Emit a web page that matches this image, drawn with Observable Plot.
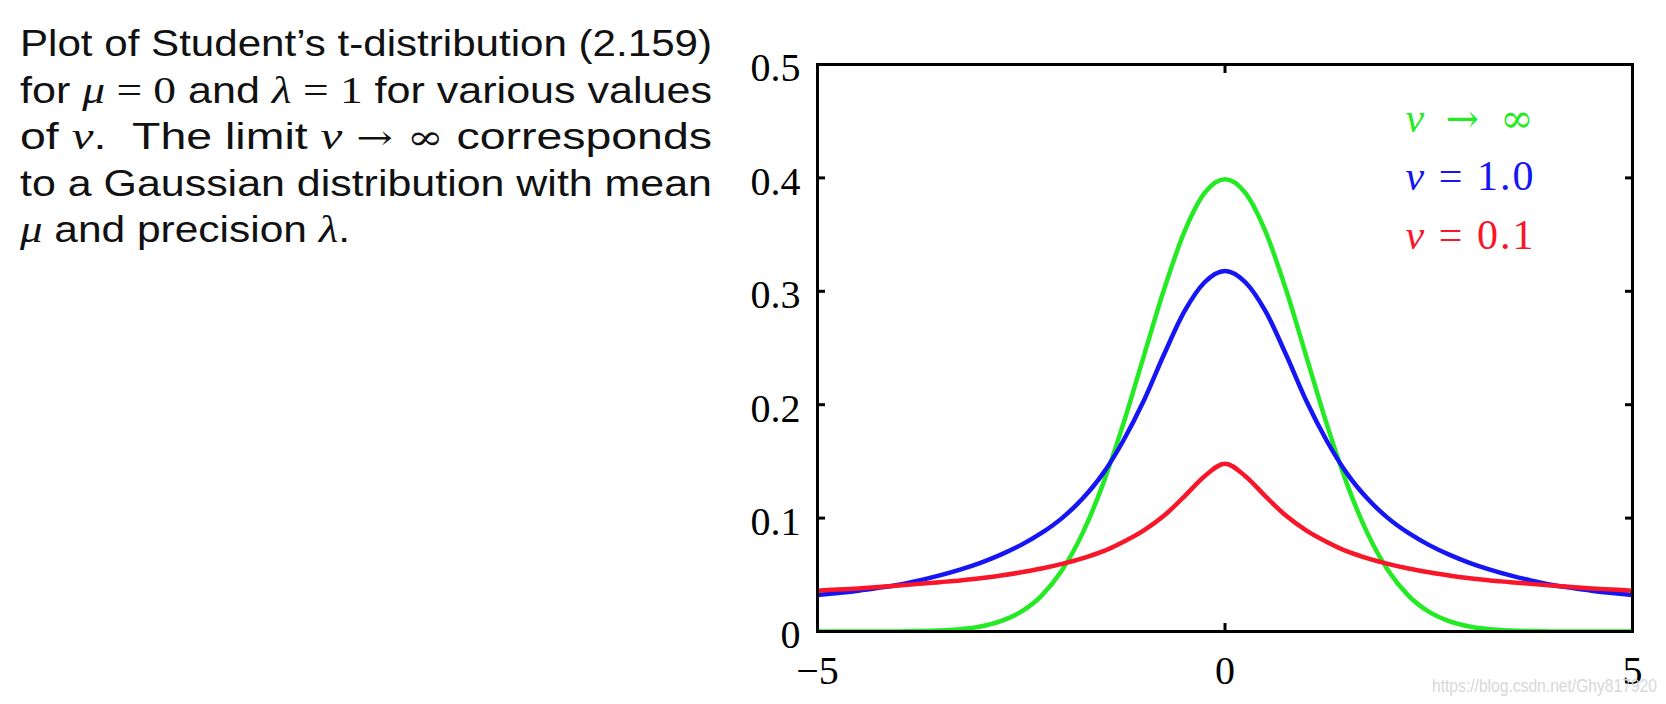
<!DOCTYPE html>
<html><head><meta charset="utf-8">
<script src="https://cdn.jsdelivr.net/npm/d3@7"></script>
<script src="https://cdn.jsdelivr.net/npm/@observablehq/plot@0.6"></script>
<style>
html,body{margin:0;padding:0;background:#fff;}
#wrap{position:relative;width:1666px;height:704px;overflow:hidden;}
#chart{position:absolute;left:0;top:0;}
#caption{position:absolute;left:0;top:0;}
#mark{position:absolute;left:0;top:0;pointer-events:none;}
</style></head><body>
<div id="wrap"><div id="chart"></div><svg id="caption" width="760" height="270"></svg><svg id="mark" width="1666" height="704"></svg></div>
<script>
const xValues = [-5, -4.75, -4.5, -4.25, -4, -3.75, -3.5, -3.25, -3, -2.75, -2.5, -2.25, -2, -1.75, -1.5, -1.25, -1, -0.75, -0.5, -0.25, 0,
  0.25, 0.5, 0.75, 1, 1.25, 1.5, 1.75, 2, 2.25, 2.5, 2.75, 3, 3.25, 3.5, 3.75, 4, 4.25, 4.5, 4.75, 5];
const gaussValues = [0, 0, 0, 0.0001, 0.0001, 0.0004, 0.0009, 0.0020, 0.0044, 0.0091, 0.0175, 0.0317, 0.0540, 0.0863, 0.1295, 0.1826, 0.2420, 0.3011, 0.3521, 0.3867, 0.3989,
  0.3867, 0.3521, 0.3011, 0.2420, 0.1826, 0.1295, 0.0863, 0.0540, 0.0317, 0.0175, 0.0091, 0.0044, 0.0020, 0.0009, 0.0004, 0.0001, 0.0001, 0, 0, 0];
const nu1Values = [0.0322, 0.0340, 0.0360, 0.0385, 0.0413, 0.0451, 0.0495, 0.0546, 0.0606, 0.0678, 0.0764, 0.0869, 0.1000, 0.1170, 0.1390, 0.1680, 0.2030, 0.2440, 0.2820, 0.3080, 0.3180,
  0.3080, 0.2820, 0.2440, 0.2030, 0.1680, 0.1390, 0.1170, 0.1000, 0.0869, 0.0764, 0.0678, 0.0606, 0.0546, 0.0495, 0.0451, 0.0413, 0.0385, 0.0360, 0.0340, 0.0322];
const nu01Values = [0.0360, 0.0370, 0.0380, 0.0392, 0.0405, 0.0420, 0.0435, 0.0450, 0.0469, 0.0494, 0.0522, 0.0555, 0.0596, 0.0645, 0.0706, 0.0790, 0.0890, 0.1020, 0.1190, 0.1370, 0.1480,
  0.1370, 0.1190, 0.1020, 0.0890, 0.0790, 0.0706, 0.0645, 0.0596, 0.0555, 0.0522, 0.0494, 0.0469, 0.0450, 0.0435, 0.0420, 0.0405, 0.0392, 0.0380, 0.0370, 0.0360];
const seriesNames = ["ν → ∞", "ν = 1.0", "ν = 0.1"];
const seriesColors = ["#24ea24", "#1616f4", "#f81628"];
const yTicks = [0, 0.1, 0.2, 0.3, 0.4, 0.5];
const yTickLabels = ["0", "0.1", "0.2", "0.3", "0.4", "0.5"];
const xTicks = [-5, 0, 5];
const xTickLabels = ["−5", "0", "5"];
const captionLines = [
  [["Plot of Student’s t-distribution (2.159)", "t"]],
  [["for ", "t"], ["μ", "i"], [" = 0", "m"], [" and ", "t"], ["λ", "i"], [" = 1", "m"], [" for various values", "t"]],
  [["of ", "t"], ["ν", "i"], [".  The limit ", "t"], ["ν", "i"], [" → ∞", "s"], [" corresponds", "t"]],
  [["to a Gaussian distribution with mean", "t"]],
  [["μ", "i"], [" and precision ", "t"], ["λ", "i"], [".", "t"]]
];
const watermark = "https://blog.csdn.net/Ghy817920";

const seriesValues = [gaussValues, nu1Values, nu01Values];

const fig = Plot.plot({
  width: 1666, height: 704,
  marginLeft: 817, marginRight: 34, marginTop: 64, marginBottom: 73,
  style: {background: "transparent", fontFamily: "Liberation Serif", color: "black"},
  x: {domain: [-5, 5], label: null},
  y: {domain: [0, 0.5], label: null},
  marks: [
    ...seriesValues.map((vals, k) => Plot.line(vals, {
      x: (d, i) => xValues[i], y: d => d, stroke: seriesColors[k], strokeWidth: 4.5,
      curve: "monotone-x", clip: true
    })),
    Plot.frame({stroke: "black", strokeWidth: 3}),
    Plot.axisY(yTicks, {anchor: "left", tickSize: -8, fill: "none", stroke: "black", strokeWidth: 3}),
    Plot.axisY(yTicks, {anchor: "right", tickSize: -8, fill: "none", stroke: "black", strokeWidth: 3}),
    Plot.axisX(xTicks, {anchor: "bottom", tickSize: -8, fill: "none", stroke: "black", strokeWidth: 3}),
    Plot.axisX(xTicks, {anchor: "top", tickSize: -8, fill: "none", stroke: "black", strokeWidth: 3}),
    Plot.axisY(yTicks, {anchor: "left", tickSize: 0, tickPadding: 17, dy: 4, fontSize: 40, fontFamily: "Liberation Serif", fill: "black",
      tickFormat: d => yTickLabels[yTicks.indexOf(d)]}),
    Plot.axisX(xTicks, {anchor: "bottom", tickSize: 0, tickPadding: 24, fontSize: 40, fontFamily: "Liberation Serif", fill: "black",
      tickFormat: d => xTickLabels[xTicks.indexOf(d)]}),
    ...seriesNames.map((name, k) => Plot.text([name], {
      frameAnchor: "top-left", dx: 588, dy: 54 + k * 58.5, text: d => d, fill: seriesColors[k],
      fontSize: 42, fontFamily: "Liberation Serif", textAnchor: "start", lineAnchor: "middle", ariaLabel: "legend"
    }))
  ]
});
document.getElementById("chart").appendChild(fig);

d3.select(fig).selectAll('g[aria-label="legend"] text, g[aria-label="text"] text').each(function() {
  const t = this.textContent;
  const sel = d3.select(this);
  sel.text(null).style("white-space", "pre");
  sel.append("tspan").attr("font-style", "italic").text(t[0]);
  const rest = t.slice(1);
  if (rest.includes("→")) {
    sel.append("tspan").attr("font-family", "DejaVu Serif").attr("font-size", 40).text(rest);
  } else {
    sel.append("tspan").text(rest);
  }
  sel.attr("textLength", 128).attr("lengthAdjust", "spacing");
});

const cap = d3.select("#caption");
captionLines.forEach((line, li) => {
  const t = cap.append("text")
    .attr("x", 20).attr("y", 56 + li * 46.5)
    .attr("font-family", "Liberation Sans").attr("font-size", 36).attr("fill", "#111")
    .style("white-space", "pre");
  line.forEach(([s, kind]) => {
    const ts = t.append("tspan").text(s);
    if (kind === "m" || kind === "i") ts.attr("font-family", "Liberation Serif").attr("font-size", 38);
    if (kind === "s") ts.attr("font-family", "DejaVu Serif").attr("font-size", 34);
    if (kind === "i") ts.attr("font-style", "italic");
  });
  t.attr("textLength", li < 4 ? 692 : 330).attr("lengthAdjust", "spacingAndGlyphs");
});

d3.select("#mark").append("text")
  .attr("x", 1432).attr("y", 692)
  .attr("font-family", "Liberation Sans").attr("font-size", 19)
  .attr("fill", "#d4d4d4").attr("opacity", 0.9)
  .attr("textLength", 225).attr("lengthAdjust", "spacingAndGlyphs")
  .text(watermark);
</script>
</body></html>
